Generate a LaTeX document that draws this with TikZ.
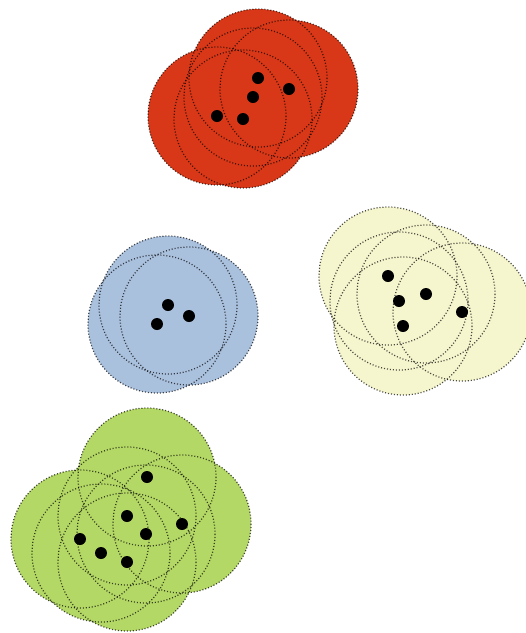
\documentclass[tikz,border=0pt]{standalone}
\definecolor{clred}{RGB}{216,56,24}
\definecolor{clblue}{RGB}{170,193,222}
\definecolor{clcream}{RGB}{245,245,206}
\definecolor{clgreen}{RGB}{180,216,102}
\tikzset{
    reach/.style={draw=black, draw opacity=0.7, line width=0.7pt,
        dash pattern=on 0.6pt off 1.1pt},
    core/.style={fill=black}
}
\begin{document}
\begin{tikzpicture}[x=0.02cm, y=-0.02cm]
    \useasboundingbox (0,0) rectangle (526,633);

    % red group
    \coordinate (r1) at (258,78);
    \coordinate (r2) at (253,97);
    \coordinate (r3) at (289,89);
    \coordinate (r4) at (217,116);
    \coordinate (r5) at (243,119);
    % blue group
    \coordinate (b1) at (168,305);
    \coordinate (b2) at (157,324);
    \coordinate (b3) at (189,316);
    % cream group
    \coordinate (c1) at (388,276);
    \coordinate (c2) at (399,301);
    \coordinate (c3) at (426,294);
    \coordinate (c4) at (403,326);
    \coordinate (c5) at (462,312);
    % green group
    \coordinate (g1) at (147,477);
    \coordinate (g2) at (127,516);
    \coordinate (g3) at (146,534);
    \coordinate (g4) at (182,524);
    \coordinate (g5) at (80,539);
    \coordinate (g6) at (101,553);
    \coordinate (g7) at (127,562);

    \foreach \p in {r1,r2,r3,r4,r5} \fill[clred] (\p) circle (69);
    \foreach \p in {b1,b2,b3} \fill[clblue] (\p) circle (69);
    \foreach \p in {c1,c2,c3,c4,c5} \fill[clcream] (\p) circle (69);
    \foreach \p in {g1,g2,g3,g4,g5,g6,g7} \fill[clgreen] (\p) circle (69);

    \foreach \p in {r1,r2,r3,r4,r5,b1,b2,b3,c1,c2,c3,c4,c5,g1,g2,g3,g4,g5,g6,g7}
        \draw[reach] (\p) circle (69);

    \foreach \p in {r1,r2,r3,r4,r5,b1,b2,b3,c1,c2,c3,c4,c5,g1,g2,g3,g4,g5,g6,g7}
        \fill[core] (\p) circle (6);
\end{tikzpicture}
\end{document}
